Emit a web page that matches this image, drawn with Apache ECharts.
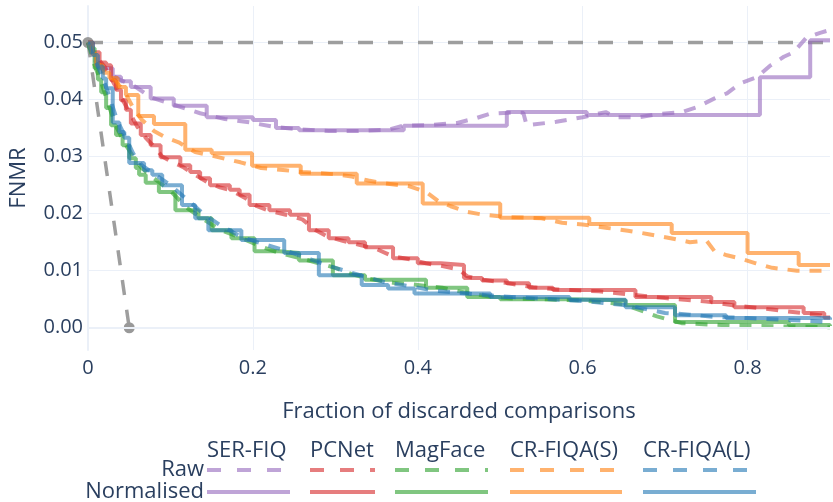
<!DOCTYPE html>
<html><head><meta charset="utf-8">
<script src="https://cdn.jsdelivr.net/npm/echarts@6/dist/echarts.min.js"></script>
<style>html,body{margin:0;padding:0;background:#fff}#c{width:833px;height:502px}</style>
</head><body><div id="c"></div>
<script>
// ---- data ----
const methods = ['SER-FIQ', 'PCNet', 'MagFace', 'CR-FIQA(S)', 'CR-FIQA(L)'];
const rowLabels = ['Raw', 'Normalised'];
const xTicks = [0, 0.2, 0.4, 0.6, 0.8];
const yTicks = [0, 0.01, 0.02, 0.03, 0.04, 0.05];
const xTitle = 'Fraction of discarded comparisons';
const yTitle = 'FNMR';

const idealLine = [[0, 0.05], [0.05, 0]];
const baselineLine = [[0, 0.05], [0.9, 0.05]];

const serfiqRaw = [[0,0.05],[0.006,0.0478],[0.016,0.046],[0.028,0.0443],[0.04,0.0434],[0.058,0.0422],[0.076,0.0404],[0.106,0.039],[0.136,0.0376],[0.166,0.0366],[0.196,0.036],[0.226,0.0352],[0.256,0.0348],[0.292,0.0345],[0.328,0.0345],[0.364,0.0347],[0.382,0.0354],[0.412,0.0355],[0.448,0.0359],[0.472,0.0368],[0.487,0.0375],[0.511,0.0377],[0.528,0.0377],[0.532,0.0355],[0.568,0.0361],[0.600,0.0369],[0.628,0.0378],[0.640,0.0369],[0.668,0.0369],[0.694,0.0375],[0.720,0.0378],[0.739,0.0387],[0.760,0.0402],[0.775,0.0411],[0.792,0.0429],[0.811,0.0439],[0.828,0.046],[0.844,0.0475],[0.856,0.0483],[0.871,0.0508],[0.888,0.0517],[0.9,0.0522]];
const serfiqNorm = [[0,0.05],[0.003,0.049],[0.006,0.0478],[0.009,0.0466],[0.012,0.0455],[0.030,0.0440],[0.040,0.0432],[0.052,0.0422],[0.076,0.0402],[0.104,0.0389],[0.144,0.0369],[0.200,0.0364],[0.228,0.0350],[0.256,0.0346],[0.383,0.0354],[0.508,0.0378],[0.605,0.0373],[0.815,0.0439],[0.876,0.0504],[0.9,0.0504]];

const pcnetRaw = [[0,0.05],[0.008,0.0478],[0.02,0.0458],[0.03,0.0432],[0.04,0.0405],[0.05,0.0378],[0.06,0.0352],[0.07,0.0333],[0.08,0.0318],[0.09,0.03],[0.10,0.0292],[0.115,0.0282],[0.13,0.0268],[0.145,0.0255],[0.16,0.0246],[0.175,0.024],[0.19,0.0228],[0.205,0.0213],[0.22,0.0205],[0.24,0.0198],[0.26,0.019],[0.275,0.0172],[0.29,0.016],[0.31,0.0152],[0.33,0.0145],[0.35,0.0138],[0.37,0.0125],[0.39,0.012],[0.41,0.0113],[0.43,0.0108],[0.45,0.0102],[0.46,0.009],[0.48,0.0084],[0.51,0.0078],[0.54,0.0071],[0.57,0.0067],[0.62,0.0064],[0.66,0.0058],[0.70,0.0052],[0.75,0.0046],[0.79,0.0038],[0.83,0.0032],[0.87,0.0025],[0.9,0.002]];
const pcnetNorm = [[0,0.05],[0.006,0.0483],[0.014,0.0465],[0.022,0.046],[0.028,0.0434],[0.034,0.0417],[0.040,0.0399],[0.046,0.0382],[0.052,0.0358],[0.064,0.0338],[0.076,0.032],[0.088,0.0299],[0.112,0.0285],[0.124,0.0273],[0.136,0.0262],[0.148,0.025],[0.172,0.0242],[0.184,0.0233],[0.196,0.0215],[0.220,0.0206],[0.245,0.0198],[0.268,0.0171],[0.292,0.0157],[0.316,0.015],[0.336,0.0141],[0.370,0.0122],[0.400,0.0113],[0.428,0.011],[0.456,0.0087],[0.478,0.0083],[0.508,0.0078],[0.535,0.007],[0.564,0.0066],[0.664,0.0054],[0.756,0.0045],[0.784,0.0036],[0.868,0.0026],[0.893,0.0018],[0.9,0.0018]];

const magfaceRaw = [[0,0.05],[0.008,0.046],[0.016,0.043],[0.025,0.039],[0.035,0.035],[0.045,0.0322],[0.055,0.03],[0.065,0.028],[0.08,0.0262],[0.10,0.024],[0.12,0.021],[0.14,0.019],[0.16,0.0172],[0.185,0.0158],[0.21,0.0142],[0.235,0.013],[0.26,0.0121],[0.28,0.0113],[0.30,0.0105],[0.32,0.0094],[0.34,0.0086],[0.37,0.0079],[0.40,0.0075],[0.43,0.007],[0.46,0.0061],[0.49,0.0054],[0.52,0.0051],[0.55,0.005],[0.60,0.0048],[0.65,0.0041],[0.69,0.002],[0.72,0.0008],[0.78,0.0004],[0.9,0.0001]];
const magfaceNorm = [[0,0.05],[0.002,0.049],[0.008,0.0455],[0.012,0.0435],[0.016,0.0413],[0.022,0.0385],[0.028,0.0355],[0.034,0.0338],[0.042,0.032],[0.050,0.0297],[0.058,0.028],[0.062,0.0268],[0.070,0.0254],[0.086,0.0238],[0.106,0.0206],[0.134,0.0192],[0.150,0.0171],[0.174,0.0157],[0.202,0.0134],[0.232,0.0131],[0.256,0.0118],[0.297,0.0092],[0.336,0.0084],[0.410,0.007],[0.460,0.0054],[0.500,0.005],[0.580,0.0048],[0.652,0.004],[0.712,0.001],[0.85,0.0005],[0.9,0.0003]];

const crfiqaSRaw = [[0,0.05],[0.008,0.0475],[0.016,0.0455],[0.025,0.0442],[0.035,0.043],[0.045,0.0412],[0.055,0.0385],[0.065,0.0365],[0.08,0.0345],[0.095,0.0333],[0.11,0.0325],[0.13,0.0308],[0.155,0.03],[0.185,0.029],[0.21,0.028],[0.24,0.0276],[0.26,0.0273],[0.28,0.0271],[0.30,0.0269],[0.32,0.0265],[0.34,0.0258],[0.36,0.0253],[0.39,0.0248],[0.41,0.0238],[0.425,0.0222],[0.44,0.0213],[0.46,0.0203],[0.48,0.0198],[0.51,0.0194],[0.55,0.0192],[0.575,0.0184],[0.60,0.0181],[0.63,0.0175],[0.655,0.017],[0.68,0.0164],[0.71,0.0156],[0.73,0.015],[0.75,0.0153],[0.76,0.0134],[0.775,0.0127],[0.79,0.0122],[0.81,0.0113],[0.83,0.0105],[0.86,0.01],[0.9,0.01]];
const crfiqaSNorm = [[0,0.05],[0.005,0.048],[0.010,0.046],[0.018,0.0447],[0.026,0.0438],[0.036,0.0422],[0.046,0.0408],[0.061,0.0371],[0.080,0.0357],[0.118,0.0312],[0.150,0.0306],[0.199,0.0284],[0.258,0.027],[0.326,0.0253],[0.406,0.0218],[0.500,0.0193],[0.608,0.0182],[0.708,0.0166],[0.800,0.0131],[0.862,0.011],[0.9,0.011]];

const crfiqaLRaw = [[0,0.05],[0.008,0.047],[0.016,0.0445],[0.025,0.041],[0.035,0.0365],[0.045,0.0335],[0.055,0.0305],[0.065,0.0285],[0.08,0.027],[0.10,0.025],[0.12,0.0225],[0.14,0.02],[0.16,0.018],[0.185,0.016],[0.21,0.0148],[0.24,0.0135],[0.27,0.012],[0.30,0.0105],[0.33,0.0092],[0.36,0.008],[0.39,0.0073],[0.42,0.0065],[0.46,0.006],[0.50,0.0055],[0.55,0.0051],[0.60,0.0047],[0.65,0.004],[0.70,0.0026],[0.73,0.0023],[0.76,0.0019],[0.80,0.0017],[0.9,0.001]];
const crfiqaLNorm = [[0,0.05],[0.006,0.0478],[0.012,0.0458],[0.018,0.0437],[0.022,0.042],[0.030,0.036],[0.038,0.0343],[0.044,0.0333],[0.050,0.0289],[0.068,0.0276],[0.078,0.0268],[0.090,0.025],[0.114,0.0215],[0.130,0.0192],[0.146,0.0171],[0.186,0.0154],[0.238,0.0131],[0.280,0.0092],[0.332,0.0075],[0.364,0.0069],[0.396,0.006],[0.488,0.0054],[0.584,0.0049],[0.652,0.0036],[0.712,0.0022],[0.774,0.0017],[0.9,0.0014]];

const rawData = [serfiqRaw, pcnetRaw, magfaceRaw, crfiqaSRaw, crfiqaLRaw];
const normData = [serfiqNorm, pcnetNorm, magfaceNorm, crfiqaSNorm, crfiqaLNorm];

// ---- style / layout ----
const colors = ['#9467bd', '#d62728', '#2ca02c', '#ff7f0e', '#1f77b4'];
const FONT = '"Open Sans", "DejaVu Sans", sans-serif';
const TXT = '#2a3f5f';
const GRIDC = '#EBF0F8';
const LINE_OP = 0.6;
const legendCols = [[207, 290], [310, 375], [395, 488], [510, 622], [643, 756]];
const legendHeaderY = 462, legendRawY = 470, legendNormY = 492, legendLabelRight = 204;

const chart = echarts.init(document.getElementById('c'), null, {renderer: 'canvas'});

const series = [];
series.push({
  type: 'line', data: baselineLine, showSymbol: false, symbol: 'none', silent: true, z: 1,
  lineStyle: {color: '#999999', width: 3.5, type: [15, 15], opacity: 0.95},
  markLine: {silent: true, symbol: 'none', label: {show: false},
    lineStyle: {color: GRIDC, width: 2, type: 'solid'}, data: [{yAxis: 0}]}
});
series.push({
  type: 'line', data: idealLine, symbol: 'circle', symbolSize: 11, showSymbol: true, silent: true, z: 1,
  itemStyle: {color: '#999999'},
  lineStyle: {color: '#999999', width: 3.5, type: [15, 15], opacity: 0.95}
});
methods.forEach((m, i) => {
  series.push({
    name: m + ' ' + rowLabels[0], type: 'line', data: rawData[i], symbol: 'none', silent: true, z: 3,
    lineStyle: {color: colors[i], width: 4, type: [12, 10], opacity: LINE_OP}
  });
  series.push({
    name: m + ' ' + rowLabels[1], type: 'line', data: normData[i], symbol: 'none', step: 'end', silent: true, z: 3,
    lineStyle: {color: colors[i], width: 4, opacity: LINE_OP}
  });
});

const graphic = [];
methods.forEach((m, i) => {
  const [x0, x1] = legendCols[i];
  graphic.push({type: 'text', x: x0, y: legendHeaderY, style: {text: m, fill: TXT, font: '22px ' + FONT, align: 'left', verticalAlign: 'bottom'}});
  graphic.push({type: 'line', shape: {x1: x0, y1: legendRawY, x2: x1, y2: legendRawY},
    style: {stroke: colors[i], lineWidth: 4, lineDash: [14, 16], opacity: LINE_OP}});
  graphic.push({type: 'line', shape: {x1: x0, y1: legendNormY, x2: x1, y2: legendNormY},
    style: {stroke: colors[i], lineWidth: 4, opacity: LINE_OP}});
});
rowLabels.forEach((r, j) => {
  graphic.push({type: 'text', x: legendLabelRight, y: j === 0 ? legendRawY : legendNormY,
    style: {text: r, fill: TXT, font: '22px ' + FONT, align: 'right', verticalAlign: 'middle'}});
});

chart.setOption({
  animation: false,
  backgroundColor: '#fff',
  grid: {left: 87, right: -4, top: 6, bottom: 152, containLabel: false},
  xAxis: {
    type: 'value', min: 0, max: 0.9, interval: 0.2,
    name: xTitle, nameLocation: 'middle', nameGap: 51,
    nameTextStyle: {color: TXT, fontSize: 22, fontFamily: FONT},
    axisLine: {show: false}, axisTick: {show: false},
    axisLabel: {color: TXT, fontSize: 20, fontFamily: FONT, margin: 8,
      formatter: v => (xTicks.some(t => Math.abs(t - v) < 1e-9) ? (v === 0 ? '0' : String(+v.toFixed(1))) : '')},
    splitLine: {show: true, showMinLine: false, showMaxLine: false, lineStyle: {color: GRIDC, width: 1}}
  },
  yAxis: {
    type: 'value', min: -0.0039, max: 0.0564, splitNumber: 6,
    name: yTitle, nameLocation: 'middle', nameGap: 58,
    nameTextStyle: {color: TXT, fontSize: 22, fontFamily: FONT},
    axisLine: {show: true, lineStyle: {color: GRIDC, width: 2}}, axisTick: {show: false},
    axisLabel: {color: TXT, fontSize: 20, fontFamily: FONT, margin: 5,
      formatter: v => (yTicks.some(t => Math.abs(t - v) < 1e-9) ? v.toFixed(2) : '')},
    splitLine: {show: true, showMinLine: false, showMaxLine: false, lineStyle: {color: GRIDC, width: 1}}
  },
  series: series,
  graphic: graphic
});
</script>
</body></html>
